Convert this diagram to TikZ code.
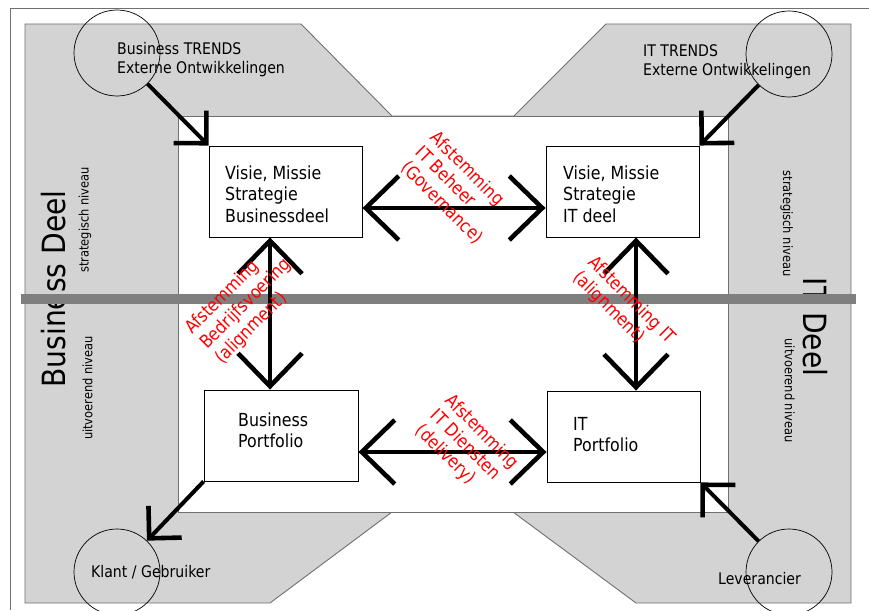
\documentclass[tikz,border=0pt]{standalone}
\usepackage{fontspec}
\setmainfont{DejaVu Sans}[FakeStretch=0.88]
\usetikzlibrary{arrows.meta}

\definecolor{panelgray}{HTML}{D3D3D3}
\definecolor{edgegray}{HTML}{707070}
\definecolor{bargray}{HTML}{7F7F7F}
\definecolor{labelred}{HTML}{FF0000}

\newcommand\boxfont{\fontsize{18pt}{21.5pt}\selectfont}
\newcommand\trendfont{\fontsize{16pt}{19.5pt}\selectfont}
\newcommand\labelfont{\fontsize{18pt}{21pt}\selectfont}
\newcommand\titlefont{\fontsize{32pt}{36pt}\selectfont}
\newcommand\levelfont{\fontsize{13pt}{15pt}\selectfont}

\tikzset{
  box/.style={draw=black, fill=white, line width=0.9pt, rectangle, inner sep=0pt},
  boxtext/.style={font=\boxfont, align=left, inner sep=0pt, anchor=north west, text=black},
  trendtext/.style={font=\trendfont, align=left, inner sep=0pt, anchor=north west, text=black},
  redlabel/.style={font=\labelfont, align=left, inner sep=0pt, text=labelred},
  sidetitle/.style={font=\titlefont, inner sep=0pt, text=black},
  leveltext/.style={font=\levelfont, inner sep=0pt, text=black},
  circ/.style={draw=black, circle, minimum size=86pt, inner sep=0pt, line width=0.7pt},
  barb/.tip={Straight Barb[length=33pt, width=64pt, line width=4.6pt]},
  smallbarb/.tip={Straight Barb[length=23pt, width=46pt, line width=4.6pt]},
  biarrow/.style={line width=4pt, barb-barb},
  cornerarrow/.style={line width=4pt, -smallbarb},
}

\begin{document}
\begin{tikzpicture}[x=1pt, y=-1pt]
\useasboundingbox (0,0) rectangle (869,610);
\fill[white] (0,0) rectangle (869,610);

% page frame
\draw[edgegray, line width=0.9pt] (10,610) -- (10,8) -- (869,8);

% grey business / IT panel with the central white field
\filldraw[fill=panelgray, draw=edgegray, line width=0.9pt]
  (25,24) -- (301,24) -- (392,116) -- (514,116) -- (606,24) -- (851,24)
  -- (851,603) -- (636,603) -- (513,512) -- (392,512) -- (270,603)
  -- (25,603) -- cycle;
\filldraw[fill=white, draw=edgegray, line width=0.9pt] (178,116) rectangle (728,512);

% side titles and level labels
\node[sidetitle, rotate=90] (bdeel) at (53.3,289) {Business Deel};
\node[sidetitle, rotate=-90] (itdeel) at (815,327) {IT Deel};
\node[leveltext, rotate=90] (lstrat) at (85,220) {strategisch niveau};
\node[leveltext, rotate=90] (luitv) at (87.5,388) {uitvoerend niveau};
\node[leveltext, rotate=-90] (rstrat) at (786.7,223.5) {strategisch niveau};
\node[leveltext, rotate=-90] (ruitv) at (789.7,390.5) {uitvoerend niveau};

% dividing bar between strategic and operational level
\fill[bargray] (21,293.5) rectangle (856,303.5);

% boxes
\node[box, minimum width=153pt, minimum height=91pt] (vb) at (285.5,191.5) {};
\node[box, minimum width=153pt, minimum height=91pt] (vi) at (622.5,191.5) {};
\node[box, minimum width=154pt, minimum height=91pt] (bp) at (281,435.5) {};
\node[box, minimum width=153pt, minimum height=91pt] (ip) at (623.5,436.5) {};

\node[boxtext] (vbt) at (225,165.3) {Visie, Missie\\Strategie\\Businessdeel};
\node[boxtext] (vit) at (563,165.3) {Visie, Missie\\Strategie\\IT deel};
\node[boxtext] (bpt) at (238,412.3) {Business\\Portfolio};
\node[boxtext] (ipt) at (573,416.9) {IT\\Portfolio};

% circles with external parties
\node[circ] (ctb) at (117,53) {};
\node[circ] (cti) at (789,54) {};
\node[circ] (ckl) at (117,572) {};
\node[circ] (clv) at (789,572) {};

\node[trendtext] (tbt) at (117,41.8) {Business TRENDS\\Externe Ontwikkelingen};
\node[trendtext] (tit) at (643,44.3) {IT TRENDS\\Externe Ontwikkelingen};
\node[trendtext] (tkl) at (91,565.6) {Klant / Gebruiker};
\node[trendtext] (tlv) at (718,571.8) {Leverancier};

% alignment arrows between the boxes
\coordinate (ty) at (0,208);
\coordinate (by) at (0,452);
\coordinate (lx) at (270,0);
\coordinate (rx) at (636,0);
\draw[biarrow] (vb.east |- ty) -- (vi.west |- ty);
\draw[biarrow] (bp.east |- by) -- (ip.west |- by);
\draw[biarrow] (vb.south -| lx) -- (bp.north -| lx);
\draw[biarrow] (vi.south -| rx) -- (ip.north -| rx);

% arrows from and to the external parties
\draw[cornerarrow] (ctb) -- (vb.north west);
\draw[cornerarrow] (cti) -- (vi.north east);
\draw[cornerarrow] (bp.south west) -- (ckl);
\draw[cornerarrow] (clv) -- (ip.south east);

% alignment labels
\node[redlabel, rotate=-45] (lgov) at (457,188) {Afstemming\\IT Beheer\\(Governance)};
\node[redlabel, rotate=45] (lbed) at (246,304) {Afstemming\\Bedrijfsvoering\\(alignment)};
\node[redlabel, rotate=-45] (lalg) at (624,308) {Afstemming IT\\(alignment)};
\node[redlabel, rotate=-45] (ldel) at (467,447) {Afstemming\\IT Diensten\\(delivery)};
\end{tikzpicture}
\end{document}
